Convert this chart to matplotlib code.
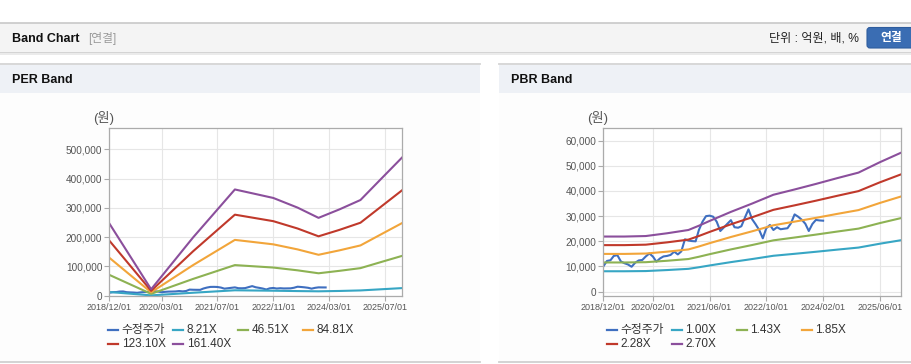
import matplotlib
matplotlib.use('Agg')
import matplotlib.pyplot as plt
import matplotlib.dates as mdates
from matplotlib.patches import Rectangle, FancyBboxPatch
from matplotlib.lines import Line2D
from matplotlib.transforms import IdentityTransform
from matplotlib.ticker import FuncFormatter
import pandas as pd

plt.rcParams['font.family'] = ['Liberation Sans', 'Noto Sans CJK KR']

W, H = 912, 364

# adjusted price (수정주가), monthly from 2018/12
price_start = '2018-12-01'
price = [10000, 12200, 12500, 14200, 14500, 12000, 11300, 10800, 9900, 11500,
         12400, 12600, 14000, 15200, 13900, 11900, 13200, 14000, 14200, 14600,
         15900, 14800, 16000, 20800, 20300, 20100, 20000, 24500, 27800, 30000,
         30200, 29800, 27800, 24100, 25500, 27000, 28400, 25600, 25400, 26000,
         29500, 32700, 28800, 26800, 24500, 21200, 25200, 26500, 24500, 25600,
         24800, 25000, 25200, 27200, 30700, 29800, 28600, 27000, 24100, 26900,
         28500, 28300, 28200]

# PER band
per_dates = ['2018-12', '2019-12', '2020-12', '2021-12', '2022-05', '2022-11',
             '2023-06', '2023-12', '2024-06', '2024-12', '2025-06', '2025-12']
per_labels = ['8.21X', '46.51X', '84.81X', '123.10X', '161.40X']
per_821 = [12600, 1100, 10100, 18500, 17800, 17000, 15800, 15000, 16200, 18000, 22000, 26000]
per_4651 = [71200, 6300, 57300, 104600, 100800, 96200, 86700, 76600, 85000, 94200, 115300, 136300]
per_8481 = [129800, 11500, 104500, 190700, 183900, 175500, 158200, 139800, 155000, 171800, 210200, 248600]
per_12310 = [188300, 16700, 151700, 276900, 266900, 254700, 229600, 202900, 225000, 249400, 305000, 360800]
per_16140 = [247000, 22000, 199000, 363000, 350000, 334000, 301000, 266000, 295000, 327000, 400000, 473000]
per_ticks = ['2018/12/01', '2020/03/01', '2021/07/01', '2022/11/01', '2024/03/01', '2025/07/01']

# PBR band
pbr_dates = ['2018-12', '2019-06', '2019-12', '2020-06', '2020-12', '2021-03', '2021-06', '2021-12',
             '2022-06', '2022-12', '2023-06', '2023-12', '2024-06', '2024-12', '2025-06', '2025-12']
pbr_labels = ['1.00X', '1.43X', '1.85X', '2.28X', '2.70X']
pbr_100 = [8110, 8110, 8190, 8590, 9070, 9700, 10410, 11740, 12960, 14260, 15040, 15850, 16700, 17520, 19040, 20440]
pbr_143 = [11600, 11600, 11710, 12280, 12970, 13870, 14890, 16790, 18530, 20390, 21510, 22670, 23880, 25050, 27230, 29230]
pbr_185 = [15000, 15000, 15150, 15890, 16780, 17950, 19260, 21720, 23980, 26380, 27820, 29320, 30900, 32410, 35220, 37810]
pbr_228 = [18490, 18490, 18670, 19590, 20680, 22120, 23740, 26770, 29550, 32510, 34290, 36140, 38080, 39950, 43410, 46600]
pbr_270 = [21900, 21900, 22100, 23200, 24500, 26200, 28100, 31700, 35000, 38500, 40600, 42800, 45100, 47300, 51400, 55200]
pbr_ticks = ['2018/12/01', '2020/02/01', '2021/06/01', '2022/10/01', '2024/02/01', '2025/06/01']

colors = ['#3f6fc0', '#37a6c4', '#8db253', '#f2a53a', '#c0392b', '#8b4f9c']

fig = plt.figure(figsize=(W / 100, H / 100), dpi=100)
fig.patch.set_facecolor('white')
ident = IdentityTransform()


def box(x0, y0, x1, y1, color):
    # page chrome goes behind the axes
    fig.add_artist(Rectangle((x0, H - y1), x1 - x0, y1 - y0, transform=ident,
                             facecolor=color, edgecolor='none', zorder=-5))


def hline(x0, x1, y, color, lw=0.72):
    fig.add_artist(Line2D([x0, x1], [H - y, H - y], transform=ident, color=color, lw=lw, zorder=-4))


def label(x, y, s, **kw):
    fig.text(x / W, 1 - y / H, s, va='center', **kw)


# page header
hline(0, W, 22.5, '#c4c4c4', lw=1.1)
box(0, 23, W, 52, '#f4f4f4')
box(0, 52, W, 53, '#d4d4d4')
box(0, 53, W, 54.5, '#ebebeb')
label(12, 38.5, 'Band Chart', size=9, weight='bold', color='#111111')
label(88, 38.5, '[연결]', size=8.5, color='#9a9a9a')
label(859, 38.5, '단위 : 억원, 배, %', size=8.7, color='#222222', ha='right')
fig.add_artist(FancyBboxPatch((867, H - 48), 52, 20.5, boxstyle='round,pad=0,rounding_size=3',
                              transform=ident, facecolor='#3a6db3', edgecolor='#2f5d9e', lw=0.8))
label(891, 38, '연결', size=8.5, weight='bold', color='white', ha='center')

# panels
for x0, x1, title in [(0, 480, 'PER Band'), (499, W, 'PBR Band')]:
    hline(x0, x1, 64, '#d4d4d4', lw=1.3)
    box(x0, 65, x1, 93, '#eef1f6')
    box(x0, 93, x1, 361, '#fdfdfd')
    hline(x0, x1, 361.5, '#d0d0d0', lw=1.3)
    label(x0 + 12, 80, title, size=9, weight='bold', color='#111111')


def make_axes(l, r, t, b):
    return fig.add_axes([l / W, 1 - b / H, (r - l) / W, (b - t) / H])


def draw(ax, band_dates, bands, ticks, ylim, ystep):
    px = mdates.date2num(pd.date_range(price_start, periods=len(price), freq='MS'))
    ax.plot(px, price, color=colors[0], lw=1.5)
    bx = mdates.date2num(pd.to_datetime(band_dates))
    for vals, c in zip(bands, colors[1:]):
        ax.plot(bx, vals, color=c, lw=1.5)
    ax.set_facecolor('white')
    ax.set_xlim(mdates.date2num(pd.Timestamp('2018-12-01')), mdates.date2num(pd.Timestamp('2025-12-01')))
    ax.set_xticks(mdates.date2num(pd.to_datetime(ticks)))
    ax.set_xticklabels(ticks)
    ax.set_ylim(*ylim)
    ax.set_yticks(range(0, int(ylim[1]), ystep))
    ax.yaxis.set_major_formatter(FuncFormatter(lambda v, p: f'{v:,.0f}'))
    ax.grid(color='#e6e6e6', lw=0.8)
    ax.set_axisbelow(True)
    for s in ax.spines.values():
        s.set_color('#ababab')
        s.set_linewidth(0.9)
    ax.tick_params(axis='both', colors='#ababab', labelcolor='#555555', labelsize=7.2,
                   length=3.5, width=0.8, pad=1.5)
    ax.tick_params(axis='x', labelsize=6.5, pad=2)


ax1 = make_axes(109.3, 402.3, 128.3, 295.7)
draw(ax1, per_dates, [per_821, per_4651, per_8481, per_12310, per_16140],
     per_ticks, (0, 572000), 100000)
ax2 = make_axes(603.3, 901, 128.3, 295.7)
draw(ax2, pbr_dates, [pbr_100, pbr_143, pbr_185, pbr_228, pbr_270],
     pbr_ticks, (-1600, 64900), 10000)

label(104, 118, '(원)', size=9.5, color='#555555', ha='center')
label(598, 118, '(원)', size=9.5, color='#555555', ha='center')


def legend(x0, names):
    for i, (name, c) in enumerate(zip(names, colors)):
        x = x0 + (i % 4) * 65
        y = 330 + (i // 4) * 14
        fig.add_artist(Line2D([x, x + 10], [H - y, H - y], transform=ident, color=c, lw=1.6))
        label(x + 13.5, y, name, size=8.5, color='#333333')


legend(108.3, ['수정주가'] + per_labels)
legend(606.7, ['수정주가'] + pbr_labels)

fig.savefig('out.png', dpi=100)
